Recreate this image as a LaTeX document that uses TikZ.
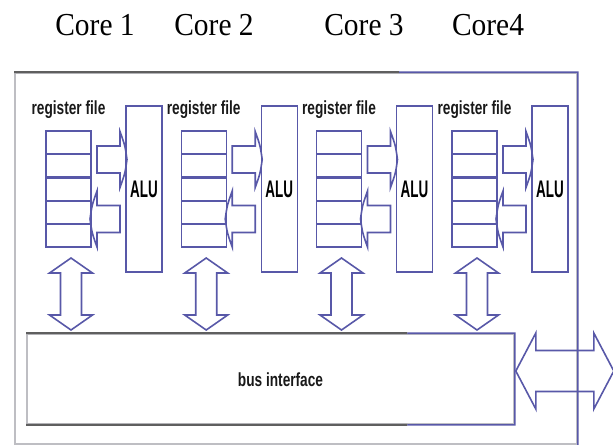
\documentclass[tikz,border=0pt]{standalone}
\usepackage{fontspec}
\usepackage{tikz}
\usepackage{xcolor}
\definecolor{regblue}{RGB}{88,88,168}
\definecolor{darkgrey}{RGB}{95,95,95}
\definecolor{lightgrey}{RGB}{190,190,195}
\newfontfamily\coretitle[FakeStretch=0.92]{Liberation Serif}
\newfontfamily\labelsans[FakeStretch=0.72]{Liberation Sans}
\newfontfamily\alusans[FakeStretch=0.56]{Liberation Sans}
\usetikzlibrary{positioning,calc}

% block arrows, drawn in pixel units of the picture
\tikzset{
	rarrow/.pic={
		\draw[blueline] (0,-13.5) -- (23,-13.5) -- (23,-28)
			.. controls (28,-14) .. (30,0)
			.. controls (28,14) .. (23,28) -- (23,13.5) -- (0,13.5) -- cycle;
	},
	vdarrow/.pic={
		\draw[blueline] (0,0) -- (21.5,15) -- (10.5,15) -- (10.5,57) -- (21.5,57)
			-- (0,72) -- (-21.5,57) -- (-10.5,57) -- (-10.5,15) -- (-21.5,15) -- cycle;
	},
	hdarrow/.pic={
		\draw[blueline] (0,0) -- (20,-38) -- (20,-20.5) -- (78,-20.5) -- (78,-38)
			-- (98,0) -- (78,38) -- (78,20.5) -- (20,20.5) -- (20,38) -- cycle;
	}
}

\begin{document}
\begin{tikzpicture}[
	x=0.5pt, y=-0.5pt,        % one unit = one pixel, y downwards
	blueline/.style={draw=regblue, line width=0.8pt},
	rowline/.style={draw=regblue, line width=1.1pt},
	regfile/.style={
		draw=regblue,          % blue border
		line width=0.6pt,      % thin sides
		rectangle,
		minimum width=22.5pt,
		minimum height=58pt,
		inner sep=0pt,
		outer sep=0pt
	},
	alubox/.style={
		draw=regblue,
		line width=0.6pt,
		rectangle,
		minimum width=18pt,
		minimum height=83pt,
		inner sep=0pt,
		outer sep=0pt,
		font=\alusans\bfseries\fontsize{12}{14}\selectfont
	},
	reglabel/.style={inner sep=0pt, text=black!90, font=\labelsans\bfseries\fontsize{9.5}{11}\selectfont},
	title/.style={inner sep=0pt, font=\coretitle\fontsize{16}{18}\selectfont}
]
\useasboundingbox (0,0) rectangle (613,446);

% core titles
\node[title] (core1) at (95,25) {Core 1};
\node[title] (core2) at (214,25) {Core 2};
\node[title] (core3) at (364,25) {Core 3};
\node[title] (core4) at (488,25) {Core4};

% chip outline
\node[draw=lightgrey, line width=0.8pt, rectangle, minimum width=281pt,
	minimum height=185.5pt, inner sep=0pt] (chip) at (296,258.5) {};
\draw[draw=darkgrey, line width=1pt] (chip.north west) -- ($(chip.north west)!0.683!(chip.north east)$);
\draw[blueline] ($(chip.north west)!0.683!(chip.north east)$) -- (chip.north east) -- (chip.south east);

% bus interface
\node[draw=lightgrey, line width=0.8pt, rectangle, minimum width=243.5pt,
	minimum height=45pt, inner sep=0pt] (bus) at (270.5,379) {};
\node[reglabel] (buslabel) at ($(bus.center)+(10,1)$) {bus interface};
\draw[draw=darkgrey, line width=1pt] (bus.north west) -- ($(bus.north west)!0.78!(bus.north east)$);
\draw[draw=darkgrey, line width=1pt] (bus.south west) -- ($(bus.south west)!0.78!(bus.south east)$);
\draw[blueline] ($(bus.north west)!0.78!(bus.north east)$) -- (bus.north east)
	-- (bus.south east) -- ($(bus.south west)!0.78!(bus.south east)$);
\pic at ($(bus.east)+(1,-8)$) {hdarrow};

% the four cores
\foreach \i/\cx in {1/68.5, 2/203.7, 3/339, 4/474.5} {
	\node[regfile] (rf\i) at (\cx,189) {};
	\foreach \r in {0,...,5}
		\draw[rowline] ($(rf\i.north west)!\r/5!(rf\i.south west)$) -- ($(rf\i.north east)!\r/5!(rf\i.south east)$);
	\node[reglabel, above=6pt of rf\i] (lab\i) {register file};
	\node[alubox, right=17.5pt of rf\i] (alu\i) {ALU};
	\draw[rowline] (alu\i.north west) -- (alu\i.north east);
	\draw[rowline] (alu\i.south west) -- (alu\i.south east);
	% read and write ports
	\pic at ($(rf\i.east)+(6,-29.5)$) {rarrow};
	\pic[rotate=180] at ($(alu\i.west)+(-6,30)$) {rarrow};
	% link to the bus
	\pic at ($(rf\i.south)+(2.5,11)$) {vdarrow};
}
\end{tikzpicture}
\end{document}
